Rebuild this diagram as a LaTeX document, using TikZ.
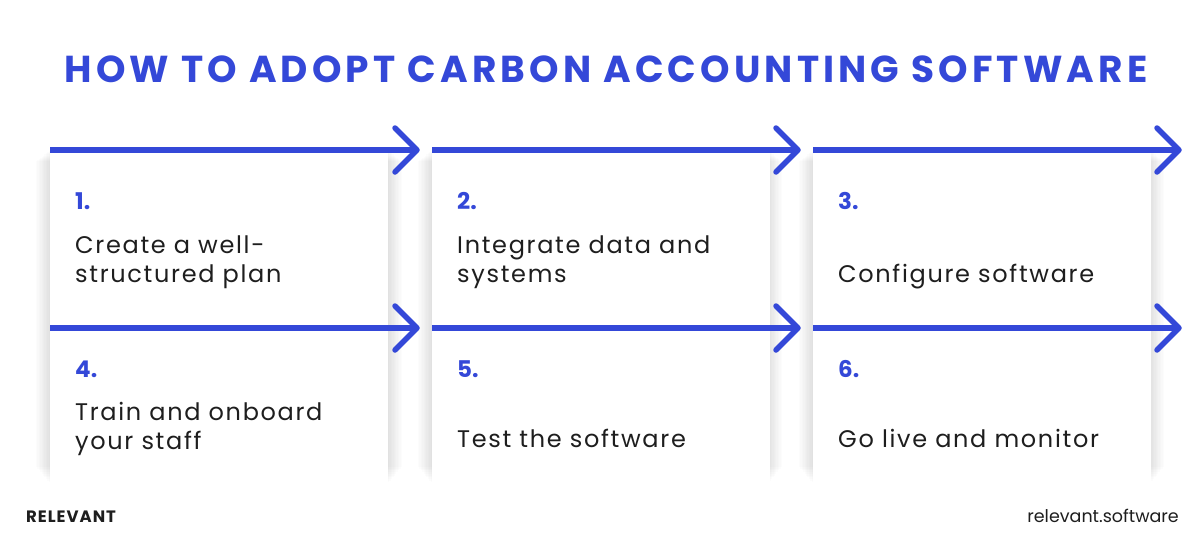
\documentclass[tikz,border=0pt]{standalone}
\usepackage{fontspec}
\setmainfont{Poppins}
\newfontfamily\titlefont[LetterSpace=11]{Poppins}
\newfontfamily\bodyfont[LetterSpace=7]{Poppins}
\newfontfamily\brandfont[LetterSpace=6]{Poppins}
\usetikzlibrary{calc}
\definecolor{brandblue}{HTML}{3448D8}
\definecolor{inkgray}{HTML}{1E1E1E}
\tikzset{
  card/.style={fill=white, draw=none, minimum width=338pt, anchor=north west, inner sep=0pt},
  flowline/.style={draw=brandblue, line width=5.5pt},
  chevron/.style={draw=brandblue, line width=5.5pt, line cap=round, line join=round},
  stepnum/.style={anchor=base west, font=\bfseries\fontsize{23}{23}\selectfont, text=brandblue, inner sep=0pt},
  steptext/.style={anchor=base west, font=\bodyfont\fontsize{24}{29}\selectfont, text=inkgray, inner sep=0pt},
}
\newcommand{\softshadow}[4]{%
  \foreach \k in {1,...,10}{
    \fill[black, opacity=0.011] ($(#1,#2)+(-\k*1.4pt,-\k*1.1pt)$) rectangle ($(#3,#4)+(\k*1.4pt,\k*1.7pt)$);
  }
}
\newcommand{\twolines}[2]{\parbox[t]{320pt}{\raggedright #1\\#2}}
\begin{document}
\begin{tikzpicture}[x=1pt,y=-1pt]
\useasboundingbox (0,0) rectangle (1200,538);
\fill[white] (0,0) rectangle (1200,538);
% title
\node[anchor=base, text=brandblue, font=\titlefont\bfseries\fontsize{37.5}{37.5}\selectfont, inner sep=0pt] (title) at (606,82) {HOW TO ADOPT CARBON ACCOUNTING SOFTWARE};
% shadows
\foreach \xa/\xb in {50/388, 432/768, 813/1150}{
  \softshadow{\xa}{150}{\xb}{484}
}
% cards
\foreach \i/\xa in {1/50, 2/432, 3/813}{
  \node[card, minimum height=178pt] (top\i) at (\xa,150) {};
}
\foreach \i/\xa in {4/50, 5/432, 6/813}{
  \node[card, minimum height=156pt] (bot\i) at (\xa,328) {};
}
% arrows
\foreach \i/\tip in {1/417, 2/798, 3/1179}{
  \coordinate (ta\i) at (\tip,150);
  \draw[flowline] (top\i.north west) -- ($(ta\i)+(-3,0)$);
  \draw[chevron] ($(ta\i)+(-22,-22)$) -- (ta\i) -- ($(ta\i)+(-22,22)$);
}
\foreach \i/\tip in {4/417, 5/798, 6/1179}{
  \coordinate (ba\i) at (\tip,328);
  \draw[flowline] (bot\i.north west) -- ($(ba\i)+(-3,0)$);
  \draw[chevron] ($(ba\i)+(-22,-22)$) -- (ba\i) -- ($(ba\i)+(-22,22)$);
}
% texts
\node[stepnum] (n1) at (75,209) {1.};
\node[stepnum] (n2) at (457,209) {2.};
\node[stepnum] (n3) at (838,209) {3.};
\node[stepnum] (n4) at (75,377) {4.};
\node[stepnum] (n5) at (457,377) {5.};
\node[stepnum] (n6) at (838,377) {6.};
\node[steptext] (t1) at (75,253) {\twolines{Create a well-}{structured plan}};
\node[steptext] (t2) at (457,253) {\twolines{Integrate data and}{systems}};
\node[steptext] (t3) at (838,282) {Configure software};
\node[steptext] (t4) at (75,420) {\twolines{Train and onboard}{your staff}};
\node[steptext] (t5) at (457,447) {Test the software};
\node[steptext] (t6) at (838,447) {Go live and monitor};
% footer
\node[anchor=base west, inner sep=0pt, font=\brandfont\bfseries\fontsize{16.5}{16.5}\selectfont, text=inkgray] (brand) at (26,522) {RELEVANT};
\node[anchor=base east, inner sep=0pt, font=\fontsize{17.5}{17.5}\selectfont, text=inkgray] (site) at (1179,522) {relevant.software};
\end{tikzpicture}
\end{document}
